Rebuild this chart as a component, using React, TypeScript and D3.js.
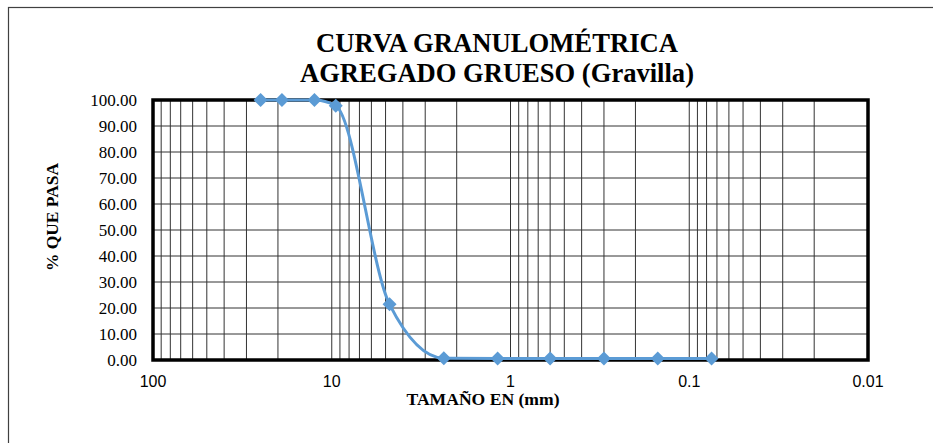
import React from "react";
import * as d3 from "d3";

const sieveSizes = [25, 19, 12.5, 9.5, 4.75, 2.36, 1.18, 0.6, 0.3, 0.15, 0.075];
const percentPassing = [100, 100, 100, 97.8, 21.4, 0.7, 0.6, 0.6, 0.6, 0.6, 0.6];
const xTickValues = [100, 10, 1, 0.1, 0.01];
const xTickLabels = ["100", "10", "1", "0.1", "0.01"];
const yTickValues = [0, 10, 20, 30, 40, 50, 60, 70, 80, 90, 100];
const titleLines = ["CURVA GRANULOMÉTRICA", "AGREGADO GRUESO (Gravilla)"];
const xTitle = "TAMAÑO EN (mm)";
const yTitle = "% QUE PASA";

const W = 933;
const H = 443;
const plot = { left: 153, right: 868, top: 100, bottom: 360 };

const diamond = {
  draw(ctx: any, size: number) {
    const r = Math.sqrt(size / 2);
    ctx.moveTo(0, -r);
    ctx.lineTo(r, 0);
    ctx.lineTo(0, r);
    ctx.lineTo(-r, 0);
    ctx.closePath();
  },
};

const serif = "'Liberation Serif', 'Times New Roman', Times, serif";
const sans = "'Liberation Sans', Arial, sans-serif";

export default function App() {
  const x = d3.scaleLog().domain([100, 0.01]).range([plot.left, plot.right]);
  const y = d3.scaleLinear().domain([0, 100]).range([plot.bottom, plot.top]);

  const gridX: number[] = [];
  for (let k = -2; k <= 1; k++) {
    for (let m = 1; m <= 9; m++) {
      const v = m * Math.pow(10, k);
      if (v > 0.01 + 1e-9 && v < 100 - 1e-9) gridX.push(v);
    }
  }

  const pts = sieveSizes.map((s, i) => [x(s), y(percentPassing[i])] as [number, number]);
  const linePath = d3.line().curve(d3.curveMonotoneX)(pts) || "";
  const marker = d3.symbol().type(diamond as any).size(98)() || "";
  const blue = "#5B9BD5";
  const gridColor = "#333";

  return (
    <svg
      width={W}
      height={H}
      style={{ position: "absolute", left: 0, top: 0, background: "#fff" }}
    >
      <rect x={0} y={0} width={W} height={H} fill="#fff" />
      <rect x={8.5} y={7.5} width={W + 20} height={H + 20} fill="none" stroke="#404040" strokeWidth={1.2} />

      {titleLines.map((t, i) => (
        <text
          key={t}
          x={497}
          y={52 + i * 30}
          textAnchor="middle"
          fontFamily={serif}
          fontWeight="bold"
          fontSize={28}
          textLength={i === 0 ? 362 : 394}
          lengthAdjust="spacingAndGlyphs"
          fill="#000"
        >
          {t}
        </text>
      ))}

      <g>
        {gridX.map((v) => (
          <line
            key={"gx" + v}
            x1={x(v)}
            x2={x(v)}
            y1={plot.top}
            y2={plot.bottom}
            stroke={gridColor}
            strokeWidth={1}
          />
        ))}
        {yTickValues.map((v) => (
          <line
            key={"gy" + v}
            x1={plot.left}
            x2={plot.right}
            y1={y(v)}
            y2={y(v)}
            stroke={gridColor}
            strokeWidth={1}
          />
        ))}
      </g>

      <rect
        x={plot.left}
        y={plot.top}
        width={plot.right - plot.left}
        height={plot.bottom - plot.top}
        fill="none"
        stroke="#000"
        strokeWidth={3.5}
      />

      {yTickValues.map((v) => (
        <text
          key={"yt" + v}
          x={137}
          y={y(v)}
          dy="0.35em"
          textAnchor="end"
          fontFamily={serif}
          fontSize={17}
          fill="#000"
        >
          {v.toFixed(2)}
        </text>
      ))}

      {xTickValues.map((v, i) => (
        <text
          key={"xt" + v}
          x={x(v)}
          y={387}
          textAnchor="middle"
          fontFamily={sans}
          fontSize={16}
          fill="#000"
        >
          {xTickLabels[i]}
        </text>
      ))}

      <text
        x={483}
        y={405}
        textAnchor="middle"
        fontFamily={serif}
        fontWeight="bold"
        fontSize={17}
        textLength={153}
        lengthAdjust="spacingAndGlyphs"
        fill="#000"
      >
        {xTitle}
      </text>

      <text
        transform={`translate(58,217) rotate(-90)`}
        textAnchor="middle"
        fontFamily={serif}
        fontWeight="bold"
        fontSize={16}
        textLength={108}
        lengthAdjust="spacingAndGlyphs"
        fill="#000"
      >
        {yTitle}
      </text>

      <defs>
        <clipPath id="plotClip">
          <rect x={0} y={0} width={W} height={plot.bottom} />
        </clipPath>
      </defs>
      <path d={linePath} fill="none" stroke={blue} strokeWidth={3} clipPath="url(#plotClip)" />
      {pts.map((p, i) => (
        <path key={"m" + i} d={marker} transform={`translate(${p[0]},${p[1]})`} fill={blue} />
      ))}
    </svg>
  );
}
